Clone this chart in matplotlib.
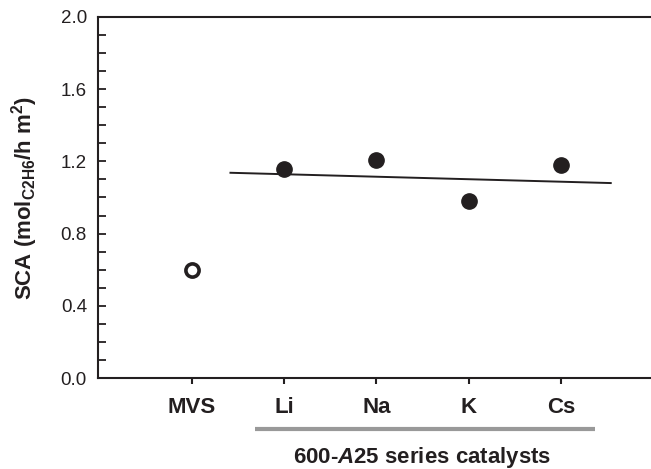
import numpy as np
import matplotlib
matplotlib.use('Agg')
import matplotlib.pyplot as plt
from matplotlib.ticker import MultipleLocator

plt.rcParams['font.family'] = ['Liberation Sans', 'DejaVu Sans']
plt.rcParams['mathtext.fontset'] = 'custom'
plt.rcParams['mathtext.rm'] = 'Liberation Sans'
plt.rcParams['mathtext.bf'] = 'Liberation Sans:bold'
plt.rcParams['mathtext.bfit'] = 'Liberation Sans:italic:bold'

# data
categories = ['MVS', 'Li', 'Na', 'K', 'Cs']
ref_value = [0.60]                     # MVS, open symbol
series_value = [1.16, 1.21, 0.98, 1.18]  # Li, Na, K, Cs
trend_x = [0.42, 4.54]
trend_y = [1.137, 1.08]
group_label = r'600-$\mathbfit{A}$25 series catalysts'
ylabel = r'SCA (mol$_{\mathbf{C2H6}}$/h m$^{\mathbf{2}}$)'

ink = '#231f20'

fig = plt.figure(figsize=(6.51, 4.69), dpi=100)
ax = fig.add_axes([98/651, 1-378/469, 1-98/651, (378-17)/469])

x = np.arange(len(categories))
ax.plot(trend_x, trend_y, color=ink, lw=1.4, zorder=2)
ax.plot(x[:1], ref_value, 'o', ms=9.5, mfc='white', mec=ink, mew=2.6, zorder=3)
ax.plot(x[1:], series_value, 'o', ms=11, color=ink, zorder=3)

ax.set_xlim(-1.015, 4.976)
ax.set_ylim(0, 2.0)
ax.set_xticks(x)
ax.set_xticklabels(categories, fontsize=16, fontweight='bold', color=ink)
ax.yaxis.set_major_locator(MultipleLocator(0.4))
ax.yaxis.set_minor_locator(MultipleLocator(0.1))
ax.set_yticklabels(['%.1f' % v for v in ax.get_yticks()])
ax.tick_params(axis='y', which='both', direction='in', length=5.5, width=1.3,
               color=ink, labelsize=13.5, labelcolor=ink, pad=8)
ax.tick_params(axis='x', direction='out', length=4.5, width=1.5, color=ink, pad=9)

for s in ['left', 'bottom', 'top']:
    ax.spines[s].set_linewidth(1.5)
    ax.spines[s].set_color(ink)
ax.spines['right'].set_visible(False)

ax.set_ylabel(ylabel, fontsize=16, fontweight='bold', color=ink)
ax.yaxis.set_label_coords(-58/553, 0.5)

# grey bar marking the catalyst series under the tick labels
tr = ax.get_xaxis_transform()
ax.plot([0.686, 4.37], [-0.141, -0.141], color='#999999', lw=3, transform=tr,
        clip_on=False, solid_capstyle='butt')
ax.text(2.5, -0.219, group_label, transform=tr, ha='center', va='center',
        fontsize=16, fontweight='bold', color=ink)

fig.savefig('out.png', dpi=100)
